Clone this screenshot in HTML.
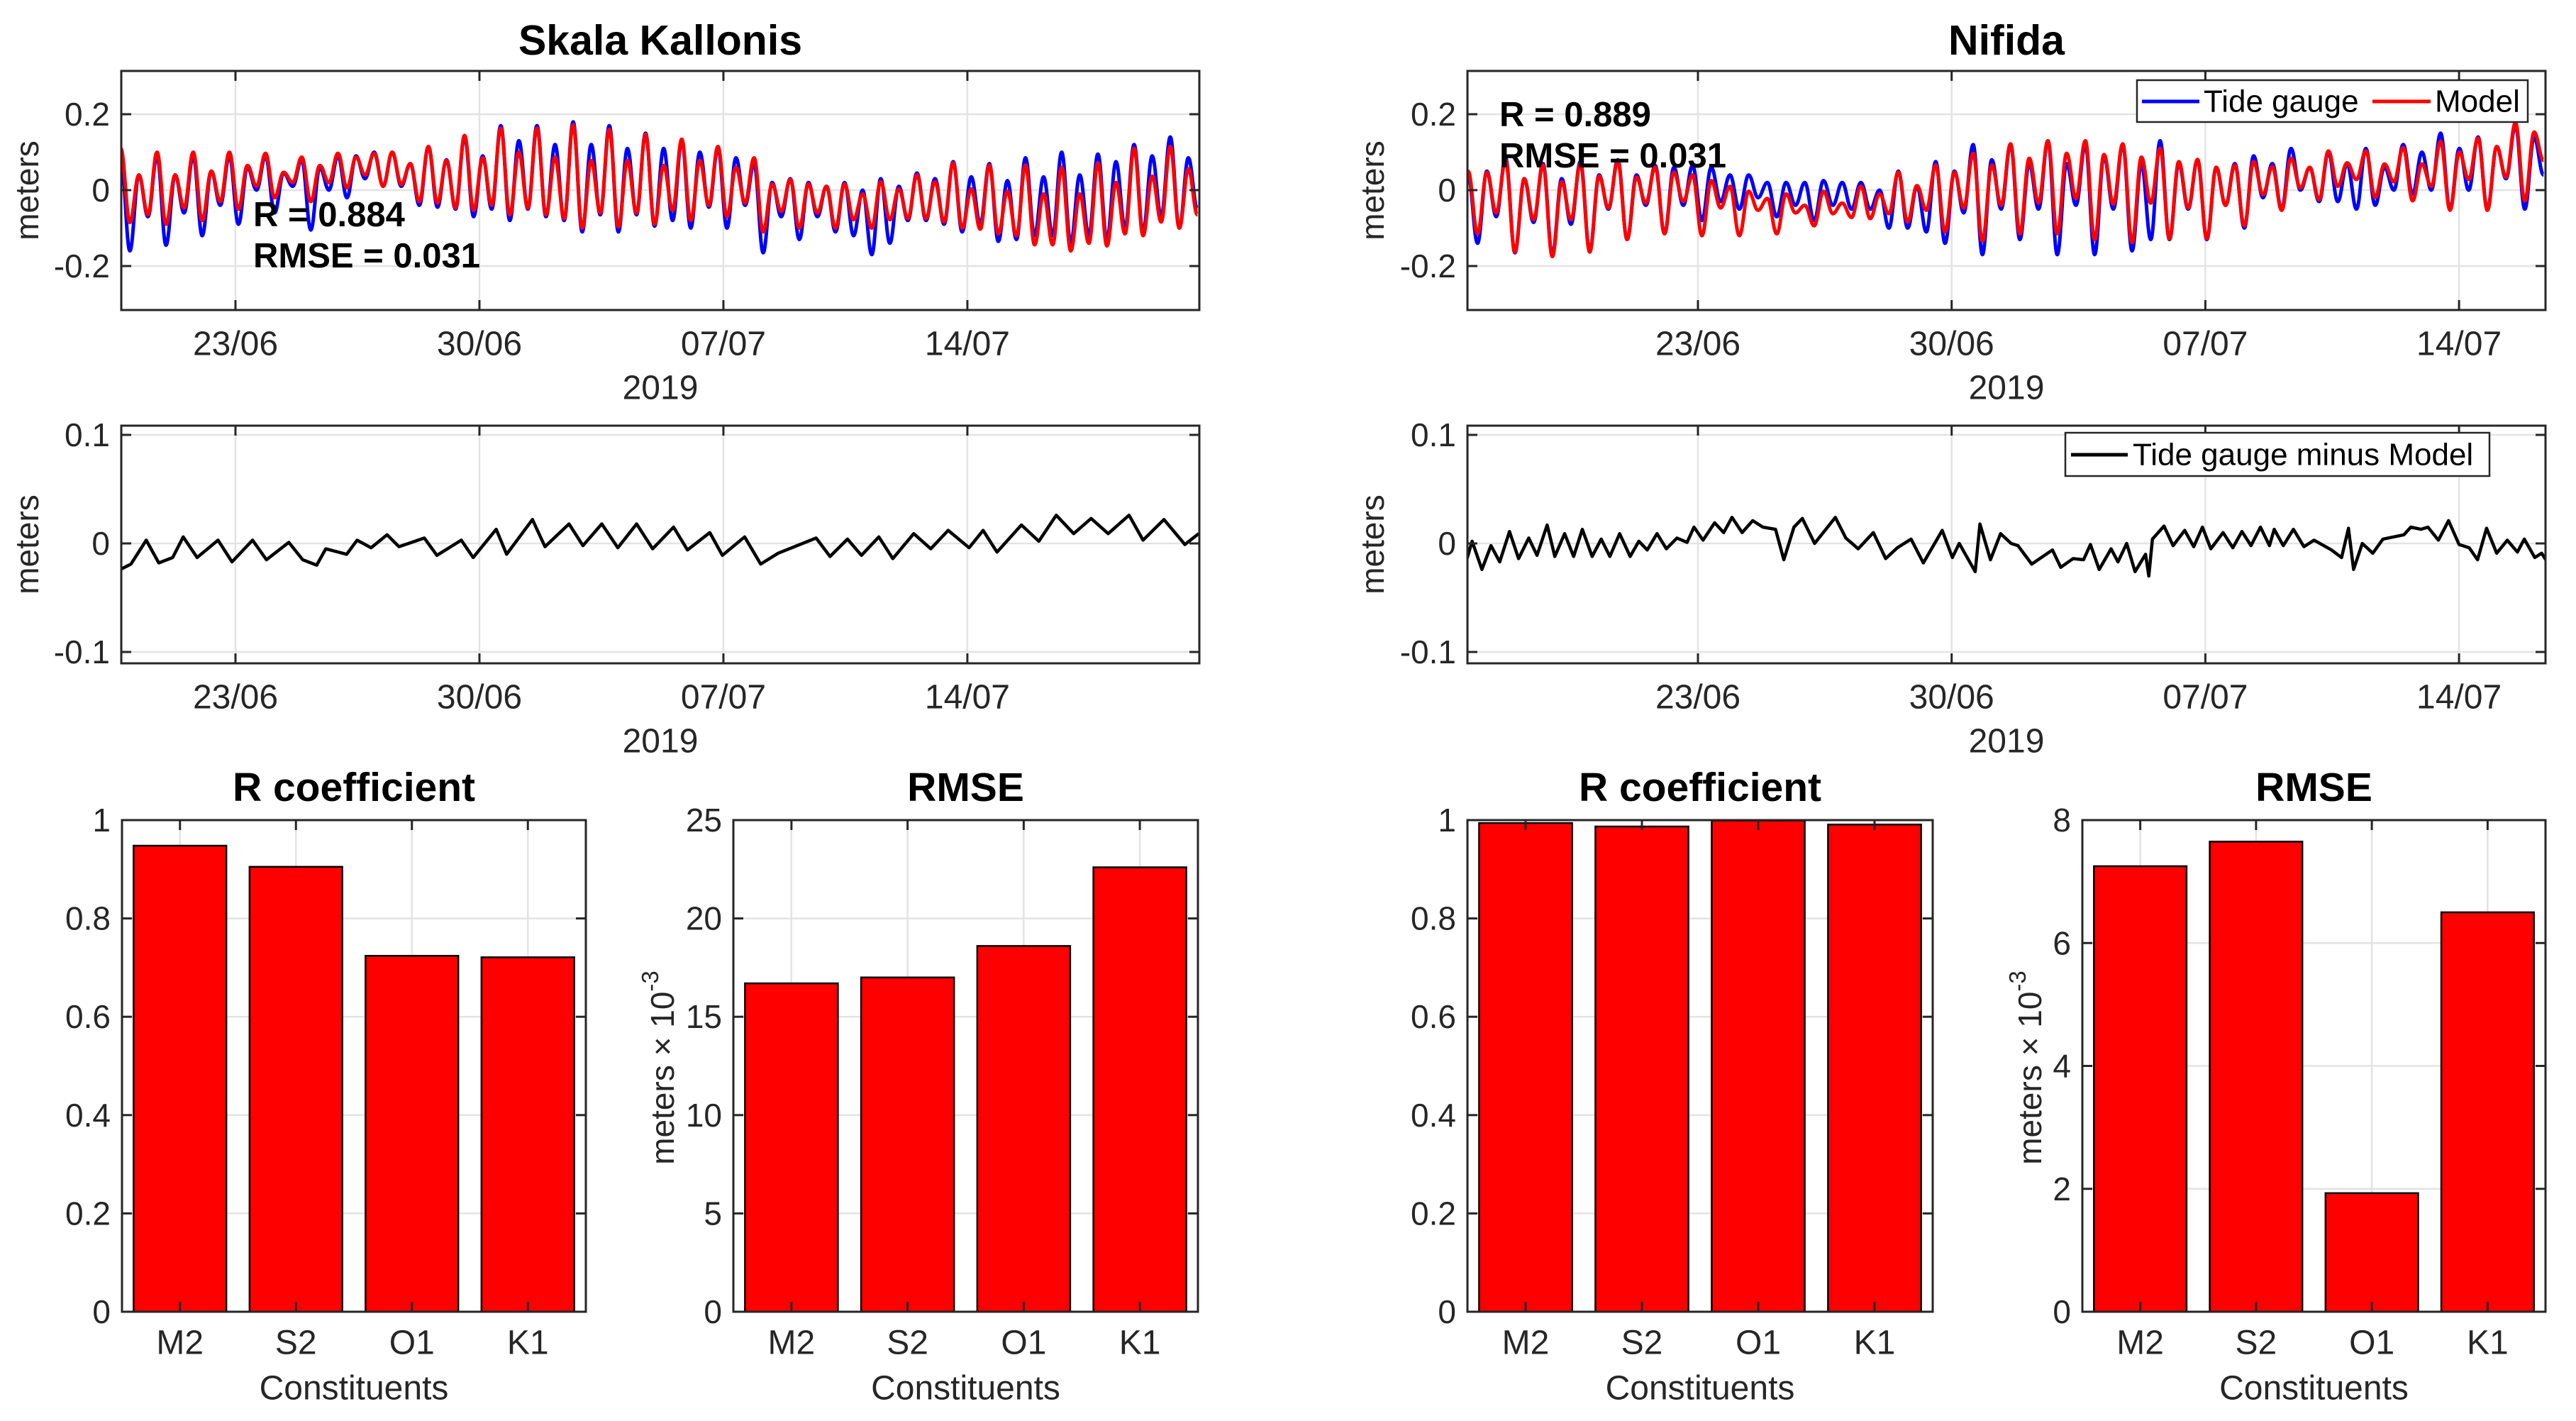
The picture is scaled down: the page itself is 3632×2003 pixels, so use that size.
<!DOCTYPE html>
<html><head><meta charset="utf-8">
<style>
html,body{margin:0;padding:0;background:#fff;}
svg{display:block;font-family:"Liberation Sans",Arial,sans-serif;}
</style></head>
<body>
<svg id="fig" width="3632" height="2003" viewBox="0 0 3632 2003" xmlns="http://www.w3.org/2000/svg">
<rect x="0" y="0" width="3632" height="2003" fill="#fff"/>
</svg>
<script>
// ---------- DATA ----------
const dateTickLabels = ["23/06","30/06","07/07","14/07"];
const dateTickDays = [0,7,14,21];
const constituents = ["M2","S2","O1","K1"];
// Skala Kallonis: alternating tidal extrema (m)
const skalaModel = [0.11,-0.085,0.04,-0.065,0.10,-0.09,0.04,-0.047,0.10,-0.08,
0.05,-0.03,0.10,-0.05,0.065,0.01,0.097,-0.02,0.047,0.02,
0.087,-0.03,0.065,0.02,0.097,0.006,0.087,0.04,0.097,0.01,
0.10,0.015,0.07,-0.03,0.115,-0.034,0.078,-0.047,0.144,-0.053,
0.085,-0.04,0.163,-0.065,0.10,-0.047,0.163,-0.065,0.087,-0.075,
0.172,-0.10,0.078,-0.06,0.16,-0.097,0.078,-0.06,0.147,-0.09,
0.065,-0.053,0.134,-0.08,0.078,-0.04,0.115,-0.07,0.06,-0.034,
0.085,-0.11,0.016,-0.056,0.028,-0.1,0.016,-0.06,0.01,-0.1,
0.016,-0.078,-0.01,-0.1,0.022,-0.078,0.003,-0.075,0.04,-0.075,
0.022,-0.084,0.072,-0.1,0.003,-0.103,0.066,-0.115,-0.003,-0.12,
0.066,-0.144,-0.01,-0.144,0.06,-0.16,-0.01,-0.14,0.072,-0.147,
0.02,-0.115,0.11,-0.12,0.037,-0.084,0.115,-0.1,0.056,-0.065];
const skalaGauge = [0.09,-0.16,0.04,-0.07,0.09,-0.145,0.04,-0.06,0.09,-0.12,
0.05,-0.04,0.09,-0.09,0.06,0.0,0.09,-0.06,0.045,0.01,
0.08,-0.105,0.06,0.0,0.09,-0.02,0.09,0.03,0.10,0.01,
0.10,0.01,0.07,-0.04,0.115,-0.045,0.08,-0.05,0.14,-0.07,
0.09,-0.05,0.17,-0.08,0.13,-0.05,0.17,-0.07,0.12,-0.08,
0.18,-0.11,0.12,-0.065,0.17,-0.11,0.11,-0.065,0.15,-0.095,
0.11,-0.08,0.13,-0.1,0.1,-0.045,0.11,-0.1,0.085,-0.04,
0.07,-0.165,0.02,-0.07,0.03,-0.13,0.02,-0.07,0.01,-0.11,
0.02,-0.12,0.0,-0.17,0.03,-0.14,0.01,-0.08,0.045,-0.08,
0.03,-0.09,0.075,-0.11,0.035,-0.09,0.07,-0.135,0.025,-0.13,
0.085,-0.12,0.035,-0.12,0.1,-0.14,0.04,-0.12,0.095,-0.13,
0.075,-0.1,0.12,-0.11,0.09,-0.07,0.14,-0.1,0.085,-0.05];
// Nifida
const nifidaModel = [0.05,-0.115,0.047,-0.06,0.078,-0.163,0.03,-0.078,0.066,-0.175,
0.022,-0.078,0.07,-0.163,0.037,-0.047,0.075,-0.13,0.034,-0.034,
0.06,-0.115,0.047,-0.03,0.04,-0.12,0.025,-0.047,0.01,-0.12,
-0.003,-0.053,-0.022,-0.115,-0.01,-0.06,-0.04,-0.094,-0.003,-0.062,
-0.034,-0.072,0.01,-0.075,-0.01,-0.062,0.047,-0.084,0.012,-0.053,
0.066,-0.11,0.047,-0.047,0.097,-0.134,0.066,-0.04,
0.122,-0.115,0.084,-0.034,0.13,-0.115,0.097,-0.022,0.13,-0.13,
0.094,-0.037,0.122,-0.138,0.087,-0.034,0.11,-0.128,0.075,-0.047,
0.081,-0.128,0.06,-0.04,0.066,-0.094,0.075,-0.012,0.062,-0.053,
0.084,0.006,0.06,-0.025,0.103,0.01,0.072,0.028,0.103,-0.019,
0.069,0.022,0.112,-0.028,0.069,0.01,0.128,-0.053,0.1,0.028,
0.137,-0.053,0.115,0.034,0.178,-0.028,0.153,0.078];
const nifidaGauge = [0.04,-0.14,0.05,-0.07,0.085,-0.165,0.03,-0.085,0.07,-0.17,
0.03,-0.09,0.075,-0.16,0.04,-0.05,0.08,-0.13,0.04,-0.04,
0.065,-0.115,0.06,-0.04,0.065,-0.08,0.06,-0.03,0.04,-0.05,
0.04,-0.02,0.02,-0.07,0.02,-0.04,0.02,-0.08,0.025,-0.04,
0.02,-0.05,0.02,-0.05,0.0,-0.1,0.05,-0.1,0.01,-0.11,
0.075,-0.14,0.05,-0.06,0.12,-0.17,0.08,-0.05,
0.12,-0.13,0.07,-0.05,0.13,-0.17,0.07,-0.04,0.12,-0.17,
0.09,-0.05,0.12,-0.16,0.07,-0.13,0.13,-0.13,0.07,-0.05,
0.08,-0.13,0.06,-0.04,0.07,-0.1,0.09,-0.02,0.07,-0.05,
0.11,0.0,0.06,-0.03,0.1,-0.03,0.07,-0.05,0.11,-0.04,
0.06,0.0,0.12,-0.01,0.1,0.0,0.15,-0.05,0.11,0.0,
0.14,-0.05,0.115,0.03,0.17,-0.05,0.14,0.04];
// residuals (day since 23/06, metres)
const skalaResDays = [-3.3,-3.0,-2.56,-2.2,-1.8,-1.5,-1.1,-0.5,-0.1,0.49,0.89,1.53,1.93,2.33,2.59,3.19,3.49,3.89,4.35,4.69,5.42,5.78,6.48,6.82,7.48,7.78,8.52,8.88,9.57,9.97,10.51,10.97,11.51,11.97,12.57,12.97,13.61,13.97,14.61,15.07,15.57,16.66,17.06,17.56,17.96,18.46,18.86,19.46,19.95,20.45,21.05,21.45,21.85,22.55,23.05,23.55,24.05,24.55,25.04,25.64,26.04,26.64,27.24,27.64];
const skalaResVals = [-0.024,-0.019,0.003,-0.018,-0.013,0.006,-0.013,0.003,-0.017,0.003,-0.015,0.001,-0.015,-0.02,-0.005,-0.01,0.003,-0.004,0.008,-0.003,0.005,-0.011,0.003,-0.013,0.013,-0.01,0.022,-0.003,0.018,-0.002,0.018,-0.004,0.018,-0.005,0.015,-0.006,0.01,-0.011,0.006,-0.019,-0.009,0.005,-0.012,0.004,-0.011,0.006,-0.014,0.009,-0.005,0.012,-0.004,0.012,-0.008,0.017,0.002,0.026,0.009,0.023,0.009,0.026,0.003,0.022,-0.001,0.009];
const nifidaResDays = [-6.38,-6.23,-5.96,-5.71,-5.47,-5.20,-4.95,-4.67,-4.44,-4.16,-3.95,-3.68,-3.43,-3.19,-2.92,-2.67,-2.43,-2.16,-1.87,-1.63,-1.40,-1.13,-0.87,-0.58,-0.30,-0.11,0.14,0.46,0.71,0.94,1.22,1.51,1.79,2.14,2.37,2.65,2.88,3.22,3.79,4.08,4.42,4.84,5.18,5.50,5.88,6.22,6.74,7.02,7.21,7.65,7.78,8.07,8.35,8.64,8.83,9.21,9.78,10.01,10.35,10.64,10.83,11.07,11.40,11.59,11.83,12.06,12.35,12.44,12.54,12.86,13.11,13.43,13.68,13.92,14.15,14.49,14.76,15.01,15.26,15.52,15.77,15.90,16.15,16.43,16.72,17.00,17.48,17.76,17.95,18.09,18.33,18.62,18.90,19.48,19.67,19.95,20.14,20.43,20.71,21.00,21.28,21.51,21.76,22.04,22.33,22.61,22.80,23.09,23.28,23.43];
const nifidaResVals = [-0.015,0.002,-0.024,-0.002,-0.017,0.011,-0.014,0.005,-0.011,0.017,-0.012,0.009,-0.012,0.013,-0.012,0.004,-0.012,0.009,-0.012,0.002,-0.006,0.009,-0.005,0.005,0.001,0.015,0.003,0.019,0.010,0.024,0.010,0.021,0.015,0.013,-0.015,0.015,0.023,0,0.024,0.005,-0.005,0.010,-0.014,-0.004,0.004,-0.018,0.012,-0.013,0,-0.026,0.018,-0.015,0.009,0,-0.002,-0.019,-0.006,-0.022,-0.014,-0.015,-0.001,-0.024,-0.005,-0.017,0,-0.026,-0.010,-0.030,0.004,0.016,-0.002,0.012,-0.003,0.015,-0.005,0.010,-0.004,0.011,-0.002,0.015,-0.002,0.013,-0.002,0.013,-0.003,0.003,-0.006,-0.013,0.014,-0.024,0,-0.009,0.004,0.008,0.015,0.013,0.015,0.003,0.021,-0.001,-0.004,-0.015,0.014,-0.009,0.003,-0.008,0.004,-0.013,-0.009,-0.017];
// bar data
const skalaR = [0.948,0.905,0.724,0.721];
const skalaRMSE = [16.7,17.0,18.6,22.6];
const nifidaR = [0.994,0.987,0.999,0.991];
const nifidaRMSE = [7.25,7.65,1.93,6.5];
const rTicks = [0,0.2,0.4,0.6,0.8,1];
const rTickLabels = ["0","0.2","0.4","0.6","0.8","1"];
const skalaRmseTicks = [0,5,10,15,20,25];
const nifidaRmseTicks = [0,2,4,6,8];
const tideTicks = [-0.2,0,0.2];
const tideTickLabels = ["-0.2","0","0.2"];
const resTicks = [-0.1,0,0.1];
const resTickLabels = ["-0.1","0","0.1"];

// ---------- DRAW HELPERS ----------
const NS="http://www.w3.org/2000/svg";
const svg=document.getElementById('fig');
function mk(tag, attrs, name, parent){
  const el=document.createElementNS(NS,tag);
  for(const k in attrs) el.setAttribute(k,attrs[k]);
  
  
  (parent||svg).appendChild(el);
  return el;
}
function txt(s,x,y,size,opts,name){
  opts=opts||{};
  const a={x:x,y:y,'font-size':size,fill:opts.fill||'#262626','text-anchor':opts.anchor||'middle','dominant-baseline':'central'};
  if(opts.bold){a['font-weight']='bold';a.fill=opts.fill||'#000';}
  if(opts.rot) a.transform='rotate(-90 '+x+' '+y+')';
  const t=mk('text',a,name);
  t.textContent=s;
  return t;
}
let clipId=0;
function makeClip(x0,y0,x1,y1){
  clipId++;
  const cp=mk('clipPath',{id:'c'+clipId},'clip-region');
  mk('rect',{x:x0,y:y0,width:x1-x0,height:y1-y0},'clip-rect',cp);
  return 'url(#c'+clipId+')';
}

function timeAxes(o){
  const xs=d=>o.d0+d*o.pxd, ys=v=>o.yz-v*o.pxu;
  dateTickDays.forEach((d,i)=>{
    mk('line',{x1:xs(d),x2:xs(d),y1:o.y0,y2:o.y1,stroke:'#e3e3e3','stroke-width':2.5},'x-grid-line');
    txt(dateTickLabels[i],xs(d),o.y1+48,48,{},'x-tick-label');
  });
  o.ticks.forEach((v,i)=>{
    mk('line',{x1:o.x0,x2:o.x1,y1:ys(v),y2:ys(v),stroke:'#e3e3e3','stroke-width':2.5},'y-grid-line');
    txt(o.tickLabels[i],o.x0-16,ys(v),46,{anchor:'end'},'y-tick-label');
  });
  txt('2019',(o.x0+o.x1)/2,o.y1+110,48,{},'x-axis-year');
  txt('meters',o.ylabX,(o.y0+o.y1)/2,46,{rot:true},'y-axis-title');
  return {xs,ys};
}
function axesBox(o,xticksPx,yticksPx){
  xticksPx.forEach(x=>{
    mk('line',{x1:x,x2:x,y1:o.y1,y2:o.y1-14,stroke:'#262626','stroke-width':3},'x-tick');
    mk('line',{x1:x,x2:x,y1:o.y0,y2:o.y0+14,stroke:'#262626','stroke-width':3},'x-tick-top');
  });
  yticksPx.forEach(y=>{
    mk('line',{x1:o.x0,x2:o.x0+14,y1:y,y2:y,stroke:'#262626','stroke-width':3},'y-tick');
    mk('line',{x1:o.x1,x2:o.x1-14,y1:y,y2:y,stroke:'#262626','stroke-width':3},'y-tick-right');
  });
  mk('rect',{x:o.x0,y:o.y0,width:o.x1-o.x0,height:o.y1-o.y0,fill:'none',stroke:'#262626','stroke-width':3},'axes-box');
}
function extremaPath(vals,t0,t1,xs,ys){
  const n=vals.length, dt=(t1-t0)/(n-1);
  let px=xs(t0), py=ys(vals[0]);
  let d='M'+px.toFixed(1)+' '+py.toFixed(1);
  for(let i=1;i<n;i++){
    const x=xs(t0+i*dt), y=ys(vals[i]), dx=(x-px)/2.6;
    d+=' C'+(px+dx).toFixed(1)+' '+py.toFixed(1)+' '+(x-dx).toFixed(1)+' '+y.toFixed(1)+' '+x.toFixed(1)+' '+y.toFixed(1);
    px=x;py=y;
  }
  return d;
}
function polyPath(ts,vs,xs,ys){
  return ts.map((t,i)=>(i?'L':'M')+xs(t).toFixed(1)+' '+ys(vs[i]).toFixed(1)).join(' ');
}

// ---------- TIME SERIES PANELS ----------
function station(cfg){
  const top={x0:cfg.x0,x1:cfg.x1,y0:100,y1:437,d0:cfg.d0,pxd:cfg.pxd,yz:268,pxu:535,ticks:tideTicks,tickLabels:tideTickLabels,ylabX:cfg.ylabX};
  const a=timeAxes(top);
  const clip=makeClip(top.x0,top.y0,top.x1,top.y1);
  const g=mk('g',{'clip-path':clip},'tide-series-group');
  mk('path',{d:extremaPath(cfg.gauge,cfg.t0,cfg.t1,a.xs,a.ys),fill:'none',stroke:'#0000ff','stroke-width':5,'stroke-linejoin':'round'},'tide-gauge-line',g);
  mk('path',{d:extremaPath(cfg.model,cfg.t0,cfg.t1,a.xs,a.ys),fill:'none',stroke:'#ff0000','stroke-width':5,'stroke-linejoin':'round'},'model-line',g);
  axesBox(top,dateTickDays.map(a.xs),tideTicks.map(a.ys));
  txt(cfg.title,(cfg.x0+cfg.x1)/2,57,59,{bold:true},'station-title');
  txt(cfg.rText,cfg.statX,cfg.rY,49,{bold:true,anchor:'start'},'r-annotation');
  txt('RMSE = 0.031',cfg.statX,cfg.rY+58,49,{bold:true,anchor:'start'},'rmse-annotation');

  const mid={x0:cfg.x0,x1:cfg.x1,y0:600,y1:935,d0:cfg.d0,pxd:cfg.pxd,yz:766,pxu:1530,ticks:resTicks,tickLabels:resTickLabels,ylabX:cfg.ylabX};
  const b=timeAxes(mid);
  const clip2=makeClip(mid.x0,mid.y0,mid.x1,mid.y1);
  const g2=mk('g',{'clip-path':clip2},'residual-group');
  mk('path',{d:polyPath(cfg.resT,cfg.resV,b.xs,b.ys),fill:'none',stroke:'#000','stroke-width':4.5,'stroke-linejoin':'round'},'residual-line',g2);
  axesBox(mid,dateTickDays.map(b.xs),resTicks.map(b.ys));
}

station({x0:171,x1:1691,d0:332,pxd:49.14,ylabX:38,t0:-3.29,t1:27.6,
  model:skalaModel,gauge:skalaGauge,title:'Skala Kallonis',rText:'R = 0.884',statX:357,rY:303,
  resT:skalaResDays,resV:skalaResVals});
station({x0:2069,x1:3589,d0:2394,pxd:51.1,ylabX:1935,t0:-6.34,t1:23.33,
  model:nifidaModel,gauge:nifidaGauge,title:'Nifida',rText:'R = 0.889',statX:2114,rY:162,
  resT:nifidaResDays,resV:nifidaResVals});

// legends
(function(){
  mk('rect',{x:3013,y:113,width:551,height:59,fill:'#fff',stroke:'#262626','stroke-width':2.5},'legend-box');
  mk('line',{x1:3020,x2:3101,y1:143,y2:143,stroke:'#0000ff','stroke-width':5},'legend-tide-gauge-swatch');
  txt('Tide gauge',3107,143,44,{anchor:'start',fill:'#000'},'legend-tide-gauge-label');
  mk('line',{x1:3345,x2:3427,y1:143,y2:143,stroke:'#ff0000','stroke-width':5},'legend-model-swatch');
  txt('Model',3433,143,44,{anchor:'start',fill:'#000'},'legend-model-label');
  mk('rect',{x:2912,y:610,width:598,height:61,fill:'#fff',stroke:'#262626','stroke-width':2.5},'residual-legend-box');
  mk('line',{x1:2920,x2:3000,y1:641,y2:641,stroke:'#000','stroke-width':5},'legend-residual-swatch');
  txt('Tide gauge minus Model',3007,641,44,{anchor:'start',fill:'#000'},'legend-residual-label');
})();

// ---------- BAR CHARTS ----------
function barChart(cfg){
  const o={x0:cfg.x0,x1:cfg.x1,y0:1156,y1:1849};
  const xs=c=>o.x0+(c+0.5)*(o.x1-o.x0)/4;
  const ys=v=>o.y1-(v/cfg.ymax)*(o.y1-o.y0);
  const bw=0.8*(o.x1-o.x0)/4;
  constituents.forEach((c,i)=>{
    mk('line',{x1:xs(i),x2:xs(i),y1:o.y0,y2:o.y1,stroke:'#e3e3e3','stroke-width':2.5},'x-grid-line');
    txt(c,xs(i),1893,48,{},'x-tick-label');
  });
  cfg.ticks.forEach((v,i)=>{
    mk('line',{x1:o.x0,x2:o.x1,y1:ys(v),y2:ys(v),stroke:'#e3e3e3','stroke-width':2.5},'y-grid-line');
    txt(cfg.tickLabels[i],o.x0-16,ys(v),46,{anchor:'end'},'y-tick-label');
  });
  cfg.vals.forEach((v,i)=>{
    mk('rect',{x:xs(i)-bw/2,y:ys(v),width:bw,height:o.y1-ys(v),fill:'#ff0000',stroke:'#000','stroke-width':2.5},'bar-'+constituents[i].toLowerCase());
  });
  axesBox(o,constituents.map((c,i)=>xs(i)),cfg.ticks.map(ys));
  txt(cfg.title,(o.x0+o.x1)/2,1110,57,{bold:true},'bar-chart-title');
  txt('Constituents',(o.x0+o.x1)/2,1957,48,{},'x-axis-title');
  if(cfg.ylab){
    const t=mk('text',{x:cfg.ylabX,y:1505,'font-size':46,fill:'#262626','text-anchor':'middle','dominant-baseline':'central',transform:'rotate(-90 '+cfg.ylabX+' 1505)'},'y-axis-title');
    t.innerHTML='meters \u00d7 10<tspan dy="-18" font-size="33">-3</tspan>';
  }
}
barChart({x0:172,x1:826,ymax:1,ticks:rTicks,tickLabels:rTickLabels,vals:skalaR,title:'R coefficient'});
barChart({x0:1034,x1:1689,ymax:25,ticks:skalaRmseTicks,tickLabels:skalaRmseTicks.map(String),vals:skalaRMSE,title:'RMSE',ylab:true,ylabX:934});
barChart({x0:2069,x1:2725,ymax:1,ticks:rTicks,tickLabels:rTickLabels,vals:nifidaR,title:'R coefficient'});
barChart({x0:2936,x1:3589,ymax:8,ticks:nifidaRmseTicks,tickLabels:nifidaRmseTicks.map(String),vals:nifidaRMSE,title:'RMSE',ylab:true,ylabX:2862});
</script>
</body></html>
